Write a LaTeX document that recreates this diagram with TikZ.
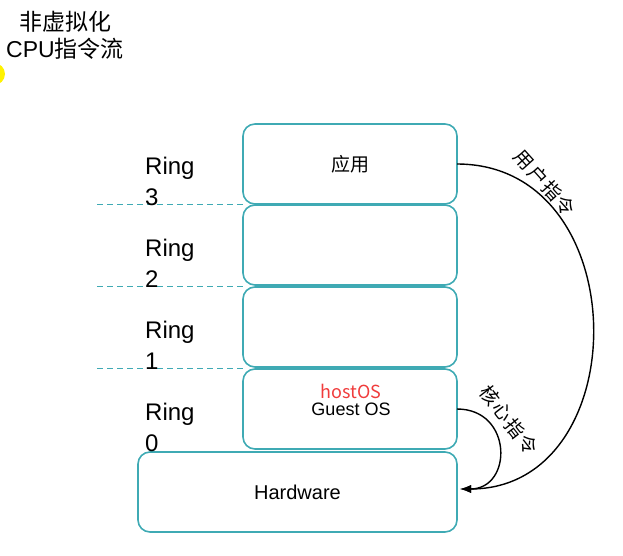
\documentclass[tikz,border=0pt]{standalone}
\usepackage{fontspec}
\setsansfont{Liberation Sans}
\newfontfamily\cjk{Noto Sans CJK SC}
\usetikzlibrary{arrows.meta}
\definecolor{ring}{HTML}{3FAAB4}
\definecolor{hostred}{HTML}{F03C3C}
\begin{document}
\begin{tikzpicture}[x=1pt,y=-1pt,font=\sffamily,>={Latex[length=11pt,width=8pt]},
  layer/.style={draw=ring,line width=1.6pt,rounded corners=12pt,minimum width=214pt,minimum height=80pt,inner sep=0pt,font=\sffamily\fontsize{18}{21}\selectfont},
  ringlbl/.style={anchor=west,align=left,inner sep=0pt,font=\sffamily\fontsize{24}{31}\selectfont},
  sep/.style={draw=ring,line width=1pt,dash pattern=on 6pt off 4pt},
  flow/.style={->,line width=1.4pt},
  cmd/.style={font=\cjk\fontsize{19}{22}\selectfont,inner sep=1pt}]
  \useasboundingbox (0,0) rectangle (623,555);
  \fill[yellow] (-6,74) circle (11);

  \node[align=center,font=\sffamily\fontsize{23}{27}\selectfont] (title) at (65,35) {{\cjk 非虚拟化}\\CPU{\cjk 指令流}};

  % privilege layers
  \node[layer,font=\cjk\fontsize{19}{21}\selectfont] (app) at (350,164) {应用};
  \node[layer] (r2) at (350,245) {};
  \node[layer] (r1) at (350,327) {};
  \node[layer] (os) at (350,409) {};
  \node[align=center,inner sep=0pt,font=\sffamily\fontsize{18}{17}\selectfont] (ostext) at (351,400) {{\cjk\color{hostred}hostOS}\\Guest OS};
  \node[layer,minimum width=319pt,font=\sffamily\fontsize{20}{22}\selectfont] (hw) at (297.5,492) {Hardware};

  \foreach \y/\n in {204/3,286/2,368/1}{
    \draw[sep] (97,\y) -- (243,\y);
  }
  \foreach \y/\n in {181/3,263/2,345/1,427/0}{
    \node[ringlbl] (ring\n) at (145,\y) {Ring\\\n};
  }

  % instruction flow
  \coordinate (usr) at (457,164);
  \coordinate (ker) at (457,409);
  \coordinate (hwin) at (460,489);
  \draw[flow] (usr) .. controls (637,164) and (637,489) .. (hwin);
  \draw[flow] (ker) .. controls (513,409) and (513,489) .. (hwin);
  \node[cmd,rotate=-48] (ucmd) at (545,183) {用\kern1.5pt 户\kern1.5pt 指\kern1.5pt 令};
  \node[cmd,rotate=-52] (kcmd) at (509,420) {核\kern1.5pt 心\kern1.5pt 指\kern1.5pt 令};
\end{tikzpicture}
\end{document}
